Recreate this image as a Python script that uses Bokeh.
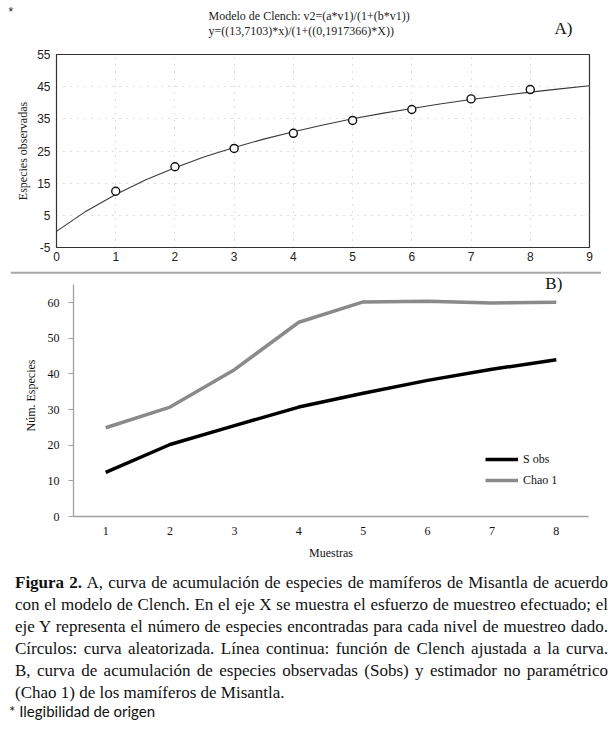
from bokeh.plotting import figure
from bokeh.models import Label, FixedTicker, Div, Legend, LegendItem, Range1d, Span
from bokeh.embed import file_html
from bokeh.resources import INLINE

# ---------------- Panel A data ----------------
muestras_a = [1, 2, 3, 4, 5, 6, 7, 8]
especies_obs = [12.5, 20.1, 25.8, 30.5, 34.5, 37.9, 41.2, 44.1]
clench_x = [0, 0.5, 1, 1.5, 2, 2.5, 3, 3.5, 4, 4.5, 5, 5.5, 6, 6.5, 7, 7.5, 8, 8.5, 9]
clench_y = [0.0, 6.3, 11.5, 16.0, 19.8, 23.2, 26.1, 28.7, 31.0, 33.1, 35.0, 36.7,
            38.2, 39.7, 41.0, 42.2, 43.3, 44.3, 45.3]
a_xticks = [0, 1, 2, 3, 4, 5, 6, 7, 8, 9]
a_yticks = [-5, 5, 15, 25, 35, 45, 55]
a_title1 = "Modelo de Clench: v2=(a*v1)/(1+(b*v1))"
a_title2 = "y=((13,7103)*x)/(1+((0,1917366)*X))"

# ---------------- Panel B data ----------------
muestras_b = [1, 2, 3, 4, 5, 6, 7, 8]
sobs = [12.4, 20.2, 25.5, 30.7, 34.6, 38.2, 41.3, 44.0]
chao1 = [24.9, 30.7, 41.2, 54.5, 60.2, 60.4, 59.9, 60.1]
b_yticks = [0, 10, 20, 30, 40, 50, 60]

SERIF = "Liberation Serif"
SANS = "Liberation Sans"
W = 611


def blank(height, xr, yr, **kw):
    f = figure(width=W, height=height, x_range=xr, y_range=yr,
               output_backend="svg", toolbar_location=None,
               x_axis_location=None, y_axis_location=None,
               min_border_left=0, min_border_right=0, min_border_top=0, min_border_bottom=0, **kw)
    f.grid.grid_line_color = None
    f.outline_line_color = None
    return f


# ================= Header (page y 0..46) =================
hdr = blank(46, Range1d(0, W), Range1d(46, 0))
hdr.add_layout(Label(x=8, y=11, text="*", text_font=SANS, text_font_size="12px",
                     text_baseline="middle", text_color="#222222"))
hdr.add_layout(Label(x=208, y=15, text=a_title1, text_font=SERIF, text_font_size="12px",
                     text_baseline="middle", text_color="#222222"))
hdr.add_layout(Label(x=208, y=30, text=a_title2, text_font=SERIF, text_font_size="12px",
                     text_baseline="middle", text_color="#222222"))
hdr.add_layout(Label(x=554, y=28, text="A)", text_font=SERIF, text_font_size="17px",
                     text_baseline="middle", text_color="#111111"))

# ================= Panel A (page y 46..266) =================
pA = figure(width=W, height=220, x_range=Range1d(0, 9), y_range=Range1d(-5, 55),
            output_backend="svg", toolbar_location=None,
            min_border_left=56, min_border_right=22, min_border_top=8, min_border_bottom=19)
pA.outline_line_color = "#333333"
pA.outline_line_width = 1.2

pA.xaxis.ticker = FixedTicker(ticks=a_xticks)
pA.yaxis.ticker = FixedTicker(ticks=a_yticks)
pA.yaxis.major_label_overrides = {t: str(t) for t in a_yticks}
for ax in (pA.xaxis[0], pA.yaxis[0]):
    ax.axis_line_color = "#333333"
    ax.major_tick_in = 0
    ax.major_tick_out = 0
    ax.minor_tick_line_color = None
    ax.major_label_text_font = SANS
    ax.major_label_text_font_size = "12px"
    ax.major_label_text_color = "#222222"
pA.xaxis.major_label_standoff = 4
pA.yaxis.major_label_standoff = 6
pA.yaxis.axis_label = "Especies observadas"
pA.yaxis.axis_label_text_font = SERIF
pA.yaxis.axis_label_text_font_size = "12px"
pA.yaxis.axis_label_text_font_style = "normal"
pA.yaxis.axis_label_text_color = "#222222"
pA.yaxis.axis_label_standoff = 4

pA.xgrid.ticker = FixedTicker(ticks=a_xticks[1:-1])
pA.ygrid.ticker = FixedTicker(ticks=a_yticks[1:-1])
for g in (pA.xgrid[0], pA.ygrid[0]):
    g.grid_line_color = "#bdbdbd"
    g.grid_line_dash = "1 6"
    g.grid_line_width = 1

pA.line(clench_x, clench_y, line_color="#3a3a3a", line_width=1.1)
pA.scatter(muestras_a, especies_obs, size=8, fill_color="white",
           line_color="#111111", line_width=1.4)

# ================= Separator (page y 266..274) =================
sep = figure(width=601, height=8, x_range=Range1d(0, 1), y_range=Range1d(274, 266),
             output_backend="svg", toolbar_location=None,
             x_axis_location=None, y_axis_location=None,
             min_border_left=10, min_border_right=0, min_border_top=0, min_border_bottom=0)
sep.grid.grid_line_color = None
sep.outline_line_color = None
sep.add_layout(Span(location=268.3, dimension="width", line_color="#a8a8a8", line_width=2))

# ================= Panel B (page y 274..567) =================
pB = figure(width=W, height=293, x_range=Range1d(0.5, 8.5), y_range=Range1d(0, 67.9),
            output_backend="svg", toolbar_location=None,
            min_border_left=73, min_border_right=23, min_border_top=0, min_border_bottom=51)
pB.outline_line_color = None
pB.grid.grid_line_color = None

pB.xaxis.ticker = FixedTicker(ticks=muestras_b)
pB.yaxis.ticker = FixedTicker(ticks=b_yticks)
pB.yaxis.bounds = (0, 65)
for ax in (pB.xaxis[0], pB.yaxis[0]):
    ax.axis_line_color = "#a0a0a0"
    ax.axis_line_width = 1.3
    ax.minor_tick_line_color = None
    ax.major_label_text_font = SERIF
    ax.major_label_text_font_size = "12px"
    ax.major_label_text_color = "#111111"
    ax.axis_label_text_font = SERIF
    ax.axis_label_text_font_size = "12px"
    ax.axis_label_text_font_style = "normal"
    ax.axis_label_text_color = "#111111"
pB.xaxis.major_tick_line_color = None
pB.xaxis.major_label_standoff = 4
pB.xaxis.axis_label = "Muestras"
pB.xaxis.axis_label_standoff = 8
pB.yaxis.major_tick_out = 5
pB.yaxis.major_tick_in = 0
pB.yaxis.major_tick_line_color = "#a0a0a0"
pB.yaxis.major_label_standoff = 9
pB.yaxis.axis_label = "Núm. Especies"
pB.yaxis.axis_label_standoff = 7

r_sobs = pB.line(muestras_b, sobs, line_color="#000000", line_width=3.5, line_join="round")
r_chao = pB.line(muestras_b, chao1, line_color="#8a8a8a", line_width=3.5, line_join="round")

leg = Legend(items=[LegendItem(label="S obs", renderers=[r_sobs]),
                    LegendItem(label="Chao 1", renderers=[r_chao])],
             location=(412, 28), glyph_width=33, glyph_height=16, label_height=16,
             spacing=5, padding=0, margin=0, label_standoff=5,
             label_text_font=SERIF, label_text_font_size="12px", label_text_color="#111111",
             border_line_color=None, background_fill_alpha=0)
pB.add_layout(leg, "center")

pB.add_layout(Label(x=7.83, y=65.3, text="B)", text_font=SERIF,
                    text_font_size="17px", text_baseline="middle", text_color="#111111"))

# ================= Caption (page y 567..) =================
base = "font-family:'Liberation Serif';font-size:17px;line-height:22px;color:#111;white-space:nowrap;"
just = base + "text-align:justify;text-align-last:justify;"
left = ("font-family:'Liberation Serif';font-size:17px;line-height:21px;color:#111;"
        "white-space:nowrap;text-align:left;")
cap_lines = [
    "<b>Figura 2.</b> A, curva de acumulación de especies de mamíferos de Misantla de acuerdo",
    "con el modelo de Clench. En el eje X se muestra el esfuerzo de muestreo efectuado; el",
    "eje Y representa el número de especies encontradas para cada nivel de muestreo dado.",
    "Círculos: curva aleatorizada. Línea continua: función de Clench ajustada a la curva.",
    "B, curva de acumulación de especies observadas (Sobs) y estimador no paramétrico",
]
html = '<div style="width:593px;margin-left:10px;">'
for ln in cap_lines:
    html += f'<div style="{just}">{ln}</div>'
html += f'<div style="{left}">(Chao 1) de los mamíferos de Misantla.</div>'
html += ('<div style="font-family:Lato;font-size:15px;line-height:17px;color:#111;'
         'margin-left:-6px;white-space:nowrap;">* Ilegibilidad de origen</div>')
html += '</div>'
caption = Div(text=html, width=W, height=160)

open("out.html", "w").write(file_html([hdr, pA, sep, pB, caption], INLINE))
